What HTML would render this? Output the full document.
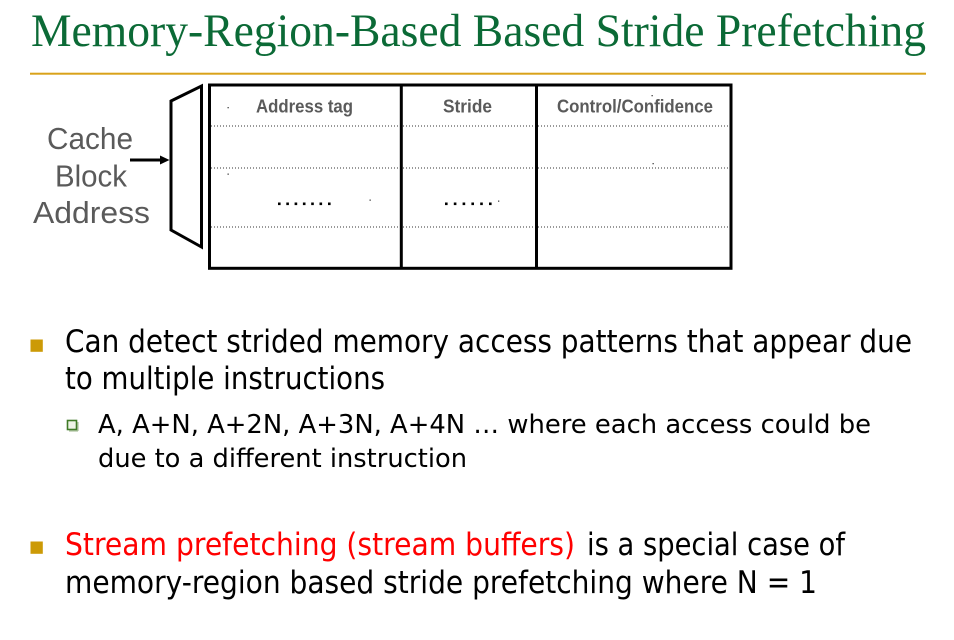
<!DOCTYPE html>
<html>
<head>
<meta charset="utf-8">
<style>
  html, body { margin: 0; padding: 0; background: #ffffff; }
  svg { display: block; }
  .t { font-family: "Liberation Serif", serif; }
  .b { font-family: "DejaVu Sans", "Liberation Sans", sans-serif; }
  .a { font-family: "Liberation Sans", sans-serif; }
</style>
</head>
<body>
<svg width="954" height="640" viewBox="0 0 954 640" xmlns="http://www.w3.org/2000/svg">
  <rect x="0" y="0" width="954" height="640" fill="#ffffff"/>

  <!-- Title -->
  <text class="t" x="31" y="46" font-size="47" fill="#0b6a36" textLength="895" lengthAdjust="spacingAndGlyphs">Memory-Region-Based Based Stride Prefetching</text>
  <rect x="30" y="72.7" width="896" height="2" fill="#d9a21a"/>

  <!-- Cache Block Address label -->
  <text class="a" x="47" y="149" font-size="31" fill="#5a5a5a" textLength="86" lengthAdjust="spacingAndGlyphs">Cache</text>
  <text class="a" x="55" y="186.5" font-size="31" fill="#5a5a5a" textLength="72" lengthAdjust="spacingAndGlyphs">Block</text>
  <text class="a" x="33" y="223" font-size="31" fill="#5a5a5a" textLength="117" lengthAdjust="spacingAndGlyphs">Address</text>

  <!-- Arrow -->
  <line x1="130" y1="160" x2="163" y2="160" stroke="#000" stroke-width="3"/>
  <polygon points="160,155.5 169.5,160 160,164.5" fill="#000"/>

  <!-- Trapezoid (decoder) -->
  <polygon points="171,101 201.5,86 201.5,247 171,230" fill="none" stroke="#000" stroke-width="3" stroke-linejoin="miter"/>

  <!-- Table dotted lines -->
  <g stroke="#333" stroke-width="1" stroke-dasharray="1 2">
    <line x1="211" y1="126" x2="729" y2="126"/>
    <line x1="211" y1="168" x2="729" y2="168"/>
    <line x1="211" y1="227" x2="729" y2="227"/>
  </g>

  <!-- Table frame -->
  <rect x="209.5" y="85" width="521.5" height="183.3" fill="none" stroke="#000" stroke-width="3"/>
  <line x1="401.3" y1="85" x2="401.3" y2="268.3" stroke="#000" stroke-width="3"/>
  <line x1="536.5" y1="85" x2="536.5" y2="268.3" stroke="#000" stroke-width="3"/>

  <!-- Table header labels -->
  <text class="a" x="256" y="112.5" font-size="18.5" font-weight="bold" fill="#5a5a5a" textLength="97" lengthAdjust="spacingAndGlyphs">Address tag</text>
  <text class="a" x="443" y="112.5" font-size="18.5" font-weight="bold" fill="#5a5a5a" textLength="49" lengthAdjust="spacingAndGlyphs">Stride</text>
  <text class="a" x="557" y="112.5" font-size="18.5" font-weight="bold" fill="#5a5a5a" textLength="156" lengthAdjust="spacingAndGlyphs">Control/Confidence</text>

  <!-- ellipsis dots -->
  <g fill="#000">
    <rect x="278" y="202.5" width="2.6" height="2.6"/>
    <rect x="286.3" y="202.5" width="2.6" height="2.6"/>
    <rect x="294.6" y="202.5" width="2.6" height="2.6"/>
    <rect x="302.9" y="202.5" width="2.6" height="2.6"/>
    <rect x="311.2" y="202.5" width="2.6" height="2.6"/>
    <rect x="319.5" y="202.5" width="2.6" height="2.6"/>
    <rect x="328" y="202.5" width="2.6" height="2.6"/>

    <rect x="445" y="202.5" width="2.6" height="2.6"/>
    <rect x="453.8" y="202.5" width="2.6" height="2.6"/>
    <rect x="462.6" y="202.5" width="2.6" height="2.6"/>
    <rect x="471.4" y="202.5" width="2.6" height="2.6"/>
    <rect x="480.2" y="202.5" width="2.6" height="2.6"/>
    <rect x="489" y="202.5" width="2.6" height="2.6"/>
  </g>
  <!-- stray tiny dots -->
  <g fill="#444">
    <rect x="227.5" y="107" width="1.3" height="1.3"/>
    <rect x="227.5" y="173.5" width="1.3" height="1.3"/>
    <rect x="369.5" y="199.5" width="1.3" height="1.3"/>
    <rect x="498" y="200.5" width="1.3" height="1.3"/>
    <rect x="651.5" y="95" width="1.3" height="1.3"/>
    <rect x="652.5" y="163" width="1.3" height="1.3"/>
  </g>

  <!-- Bullet 1 -->
  <rect x="30.5" y="339.5" width="12.3" height="12.3" fill="#cc9a06"/>
  <text class="b" x="65" y="352" font-size="31" fill="#000" textLength="847" lengthAdjust="spacingAndGlyphs">Can detect strided memory access patterns that appear due</text>
  <text class="b" x="65" y="389" font-size="31" fill="#000" textLength="320" lengthAdjust="spacingAndGlyphs">to multiple instructions</text>

  <!-- Sub bullet -->
  <rect x="67.5" y="420.5" width="9" height="9" fill="#eef4e6" stroke="#3f7a26" stroke-width="1.6"/>
  <line x1="69" y1="431" x2="78" y2="431" stroke="#9bb58a" stroke-width="1"/>
  <line x1="78" y1="422" x2="78" y2="431" stroke="#9bb58a" stroke-width="1"/>
  <text class="b" x="98" y="433" font-size="26" fill="#000" textLength="773" lengthAdjust="spacingAndGlyphs">A, A+N, A+2N, A+3N, A+4N … where each access could be</text>
  <text class="b" x="98" y="467" font-size="26" fill="#000" textLength="369" lengthAdjust="spacingAndGlyphs">due to a different instruction</text>

  <!-- Bullet 2 -->
  <rect x="30.5" y="541.5" width="12.3" height="12.3" fill="#cc9a06"/>
  <text class="b" x="65" y="555" font-size="31" fill="#ff0000" textLength="510" lengthAdjust="spacingAndGlyphs">Stream prefetching (stream buffers)</text>
  <text class="b" x="587" y="555" font-size="31" fill="#000" textLength="258" lengthAdjust="spacingAndGlyphs">is a special case of</text>
  <text class="b" x="65" y="593" font-size="31" fill="#000" textLength="752" lengthAdjust="spacingAndGlyphs">memory-region based stride prefetching where N = 1</text>
</svg>
</body>
</html>
